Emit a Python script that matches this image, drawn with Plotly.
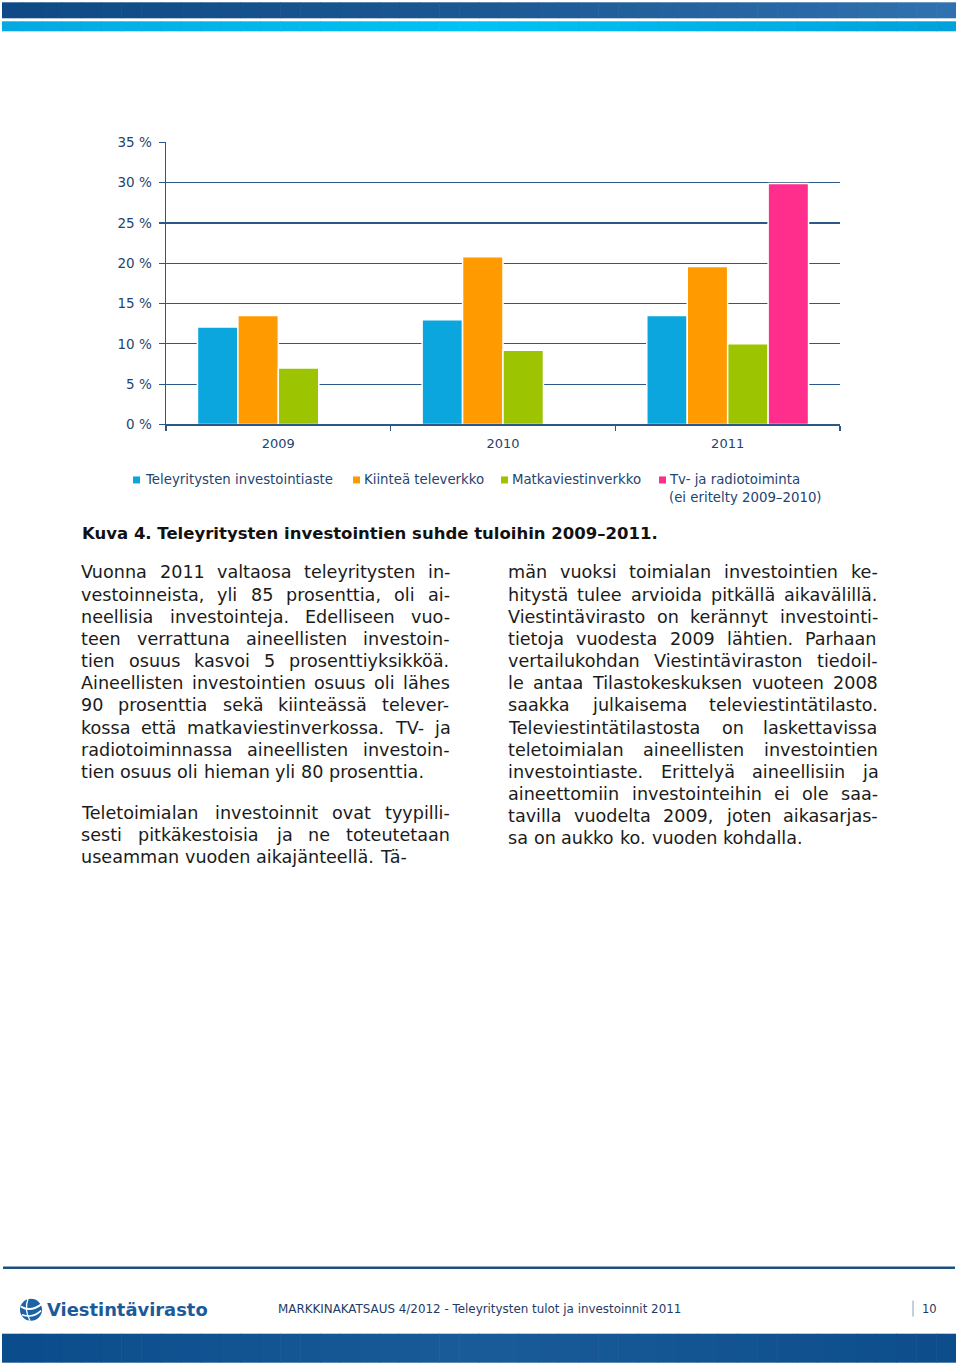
import plotly.graph_objects as go

# ---------------- data ----------------
years = ["2009", "2010", "2011"]
series_names = ["Teleyritysten investointiaste", "Kiinteä televerkko",
                "Matkaviestinverkko", "Tv- ja radiotoiminta"]
legend_extra = ["", "", "", "(ei eritelty 2009–2010)"]
investment_rate = [12.1, 13.0, 13.5]
fixed_network = [13.5, 20.8, 19.6]
mobile_network = [7.0, 9.2, 10.0]
tv_radio = [None, None, 29.9]
series_values = [investment_rate, fixed_network, mobile_network, tv_radio]
series_colors = ["#0aa6dd", "#ff9a00", "#9cc400", "#ff2e8d"]
y_tick_values = [0, 5, 10, 15, 20, 25, 30, 35]
y_tick_labels = ["0 %", "5 %", "10 %", "15 %", "20 %", "25 %", "30 %", "35 %"]

caption = "Kuva 4. Teleyritysten investointien suhde tuloihin 2009–2011."
left_par1 = [
    "Vuonna 2011 valtaosa teleyritysten in-",
    "vestoinneista, yli 85 prosenttia, oli ai-",
    "neellisia investointeja. Edelliseen vuo-",
    "teen verrattuna aineellisten investoin-",
    "tien osuus kasvoi 5 prosenttiyksikköä.",
    "Aineellisten investointien osuus oli lähes",
    "90 prosenttia sekä kiinteässä telever-",
    "kossa että matkaviestinverkossa. TV- ja",
    "radiotoiminnassa aineellisten investoin-",
    "tien osuus oli hieman yli 80 prosenttia.",
]
left_par2 = [
    "Teletoimialan investoinnit ovat tyypilli-",
    "sesti pitkäkestoisia ja ne toteutetaan",
    "useamman vuoden aikajänteellä. Tä-",
]
right_par = [
    "män vuoksi toimialan investointien ke-",
    "hitystä tulee arvioida pitkällä aikavälillä.",
    "Viestintävirasto on kerännyt investointi-",
    "tietoja vuodesta 2009 lähtien. Parhaan",
    "vertailukohdan Viestintäviraston tiedoil-",
    "le antaa Tilastokeskuksen vuoteen 2008",
    "saakka julkaisema televiestintätilasto.",
    "Televiestintätilastosta on laskettavissa",
    "teletoimialan aineellisten investointien",
    "investointiaste. Erittelyä aineellisiin ja",
    "aineettomiin investointeihin ei ole saa-",
    "tavilla vuodelta 2009, joten aikasarjas-",
    "sa on aukko ko. vuoden kohdalla.",
]
footer_text = "MARKKINAKATSAUS 4/2012 - Teleyritysten tulot ja investoinnit 2011"
page_number = "10"
logo_text = "Viestintävirasto"

# ---------------- helpers ----------------
W, H = 960, 1367
Y_OFF, Y_SC = 7.7, 0.988   # compensation for the vertical mapping of the photograph


def px(x):
    return x / W


def py(y):
    return 1 - ((y - Y_OFF) / Y_SC) / H


AXIS_COLOR = "#2b5886"
LABEL_COLOR = "#1f4470"
TEXT_COLOR = "#1b1b1b"
BODY_FONT = "DejaVu Sans"

ADV = {" ": 318, ",": 318, "-": 361, ".": 318, "/": 337, ":": 337, "(": 390, ")": 390,
       "A": 684, "B": 686, "C": 698, "D": 770, "E": 632, "F": 575, "G": 775, "H": 752,
       "I": 295, "J": 295, "K": 656, "L": 557, "M": 863, "N": 748, "O": 787, "P": 603,
       "R": 695, "S": 635, "T": 611, "U": 732, "V": 684, "W": 989, "Y": 611,
       "a": 613, "b": 635, "c": 550, "d": 635, "e": 615, "f": 352, "g": 635, "h": 634,
       "i": 278, "j": 278, "k": 579, "l": 278, "m": 974, "n": 634, "o": 612, "p": 635,
       "q": 635, "r": 411, "s": 521, "t": 392, "u": 634, "v": 592, "w": 818, "x": 592,
       "y": 592, "z": 525, "ä": 613, "ö": 612, "å": 613}
for d in "0123456789":
    ADV[d] = 636


def tw(s, size):
    return sum(ADV.get(c, 600) for c in s) / 1000.0 * size


fig = go.Figure()

for name, vals, col in zip(series_names, series_values, series_colors):
    fig.add_trace(go.Bar(
        x=years, y=vals, name=name,
        marker=dict(color=col, line=dict(color="white", width=1.5)),
        showlegend=False,
    ))

annotations = []
shapes = []


def hex2rgb(h):
    h = h.lstrip("#")
    return tuple(int(h[i:i + 2], 16) for i in (0, 2, 4))


def gradient(x0, x1, y0, y1, stops, n=48):
    cols = [hex2rgb(c) for c in stops]
    seg = len(cols) - 1
    for i in range(n):
        t = (i + 0.5) / n
        k = min(int(t * seg), seg - 1)
        f = t * seg - k
        c = tuple(int(cols[k][j] + (cols[k + 1][j] - cols[k][j]) * f) for j in range(3))
        xa = x0 + (x1 - x0) * i / n
        xb = x0 + (x1 - x0) * (i + 1) / n + 0.6
        shapes.append(dict(type="rect", xref="paper", yref="paper",
                           x0=px(xa), x1=px(min(xb, x1)), y0=py(y1), y1=py(y0),
                           fillcolor="rgb(%d,%d,%d)" % c, line=dict(width=0), layer="below"))


gradient(2, 956, 2, 18, ["#0f4a87", "#1c5894", "#3172b0"])
gradient(2, 956, 21, 31, ["#06a9e2", "#00c3f5", "#00a1dc"])
gradient(2, 956, 1333, 1362, ["#0b4c8c", "#1a5b99", "#0d4d8c"])
shapes.append(dict(type="line", xref="paper", yref="paper", x0=px(3), x1=px(955),
                   y0=py(1267), y1=py(1267), line=dict(color="#1f4f80", width=2.5)))
shapes.append(dict(type="line", xref="paper", yref="paper", x0=px(913), x1=px(913),
                   y0=py(1300), y1=py(1316), line=dict(color="#8aa0b8", width=1)))

# logo globe
shapes.append(dict(type="circle", xref="paper", yref="paper", x0=px(20), x1=px(42),
                   y0=py(1320), y1=py(1298), fillcolor="#1d62a6", line=dict(width=0)))
shapes.append(dict(type="path", xref="paper", yref="paper",
                   path="M %f %f Q %f %f %f %f" % (px(21), py(1306), px(31), py(1312), px(42), py(1303)),
                   line=dict(color="white", width=2)))
shapes.append(dict(type="path", xref="paper", yref="paper",
                   path="M %f %f Q %f %f %f %f" % (px(22), py(1314), px(33), py(1318), px(41), py(1310)),
                   line=dict(color="white", width=1.6)))
shapes.append(dict(type="path", xref="paper", yref="paper",
                   path="M %f %f Q %f %f %f %f" % (px(28), py(1298), px(24), py(1309), px(30), py(1320)),
                   line=dict(color="white", width=1.3)))
annotations.append(dict(text="<b>%s</b>" % logo_text, x=px(46), y=py(1309), xref="paper", yref="paper",
                        xanchor="left", yanchor="middle", showarrow=False, borderpad=0,
                        font=dict(family="DejaVu Sans", size=17.9, color="#1c5a9a")))
annotations.append(dict(text=footer_text, x=px(277), y=py(1308), xref="paper", yref="paper",
                        xanchor="left", yanchor="middle", showarrow=False, borderpad=0,
                        font=dict(family="DejaVu Sans", size=11.9, color="#1f3a66")))
annotations.append(dict(text=page_number, x=px(921), y=py(1308), xref="paper", yref="paper",
                        xanchor="left", yanchor="middle", showarrow=False, borderpad=0,
                        font=dict(family="DejaVu Sans", size=11.5, color="#1f3a66")))

# ---------------- custom legend ----------------
legend_marker_x = [133, 353, 501, 659]
legend_text_x = [144, 363, 511, 668]
for name, extra, col, mx, tx in zip(series_names, legend_extra, series_colors,
                                    legend_marker_x, legend_text_x):
    shapes.append(dict(type="rect", xref="paper", yref="paper", x0=px(mx), x1=px(mx + 7),
                       y0=py(483), y1=py(476), fillcolor=col, line=dict(width=0)))
    annotations.append(dict(text=name, x=px(tx), y=py(479), xref="paper", yref="paper",
                            xanchor="left", yanchor="middle", showarrow=False, borderpad=0,
                            font=dict(family=BODY_FONT, size=13.3, color=LABEL_COLOR)))
    if extra:
        annotations.append(dict(text=extra, x=px(tx), y=py(497), xref="paper", yref="paper",
                                xanchor="left", yanchor="middle", showarrow=False, borderpad=0,
                                font=dict(family=BODY_FONT, size=13.3, color=LABEL_COLOR)))

# ---------------- caption ----------------
annotations.append(dict(text="<b>%s</b>" % caption, x=px(81), y=py(533), xref="paper", yref="paper",
                        xanchor="left", yanchor="middle", showarrow=False, borderpad=0,
                        font=dict(family=BODY_FONT, size=16.5, color="#111111")))

# ---------------- body text (justified) ----------------
FS = 17.6


def add_paragraph(lines, x0, x1, y0, step):
    for i, line in enumerate(lines):
        y = y0 + step * i
        words = line.split(" ")
        last = (i == len(lines) - 1)
        widths = [tw(w, FS) for w in words]
        if last or len(words) == 1:
            gap = tw(" ", FS)
        else:
            gap = ((x1 - x0) - sum(widths)) / (len(words) - 1)
            gap = max(gap, tw(" ", FS) * 0.7)
        x = x0
        for w, wd in zip(words, widths):
            annotations.append(dict(text=w, x=px(x), y=py(y), xref="paper", yref="paper",
                                    xanchor="left", yanchor="middle", showarrow=False,
                                    borderpad=0, borderwidth=0,
                                    font=dict(family=BODY_FONT, size=FS, color=TEXT_COLOR)))
            x += wd + gap


add_paragraph(left_par1, 81, 450, 572, 22.15)
add_paragraph(left_par2, 81, 450, 812, 22.15)
add_paragraph(right_par, 508, 878, 572, 22.15)

fig.update_layout(
    width=W, height=H,
    margin=dict(l=0, r=0, t=0, b=0),
    paper_bgcolor="white", plot_bgcolor="white",
    barmode="group", bargap=0.28, bargroupgap=0,
    showlegend=False,
    xaxis=dict(domain=[px(166), px(840)], type="category",
               showline=True, linecolor=AXIS_COLOR, linewidth=1.5,
               ticks="outside", tickson="boundaries", ticklen=5, tickcolor=AXIS_COLOR,
               tickwidth=1.2, showgrid=False, ticklabelstandoff=6,
               tickfont=dict(family=BODY_FONT, size=13, color=LABEL_COLOR)),
    yaxis=dict(domain=[py(424), py(142)], range=[0, 35],
               tickvals=y_tick_values, ticktext=y_tick_labels,
               showline=True, linecolor=AXIS_COLOR, linewidth=1.5,
               ticks="outside", ticklen=6, tickcolor=AXIS_COLOR, tickwidth=1.2,
               showgrid=True, gridcolor=AXIS_COLOR, gridwidth=1.2, zeroline=False,
               ticklabelstandoff=4,
               tickfont=dict(family=BODY_FONT, size=13.5, color=LABEL_COLOR)),
    shapes=shapes,
    annotations=annotations,
)

fig.write_html(
    "out.html",
    config={"displayModeBar": False, "staticPlot": True},
    post_script=(
        "document.documentElement.style.margin='0';"
        "document.body.style.margin='0';"
    ),
)
